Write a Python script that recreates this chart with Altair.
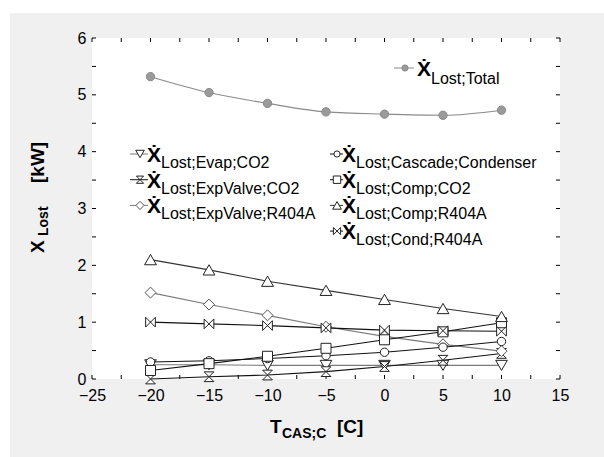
import altair as alt
import pandas as pd

# ---------------- data ----------------
t_cas = [-20, -15, -10, -5, 0, 5, 10]
x_total = [5.32, 5.04, 4.85, 4.70, 4.66, 4.64, 4.73]
x_evap_co2 = [0.25, 0.25, 0.24, 0.24, 0.24, 0.24, 0.24]
x_expvalve_co2 = [0.00, 0.04, 0.07, 0.13, 0.22, 0.33, 0.45]
x_expvalve_r404a = [1.52, 1.31, 1.12, 0.92, 0.75, 0.61, 0.49]
x_cascade = [0.30, 0.32, 0.36, 0.41, 0.47, 0.56, 0.66]
x_comp_co2 = [0.15, 0.27, 0.40, 0.54, 0.69, 0.83, 0.99]
x_comp_r404a = [2.10, 1.92, 1.72, 1.56, 1.40, 1.24, 1.10]
x_cond_r404a = [1.00, 0.97, 0.94, 0.90, 0.86, 0.85, 0.84]

x_ticks = [-25, -20, -15, -10, -5, 0, 5, 10, 15]
y_ticks = [0, 1, 2, 3, 4, 5, 6]
x_minor = [-25 + 2.5 * i for i in range(17)]
y_minor = [0.5 * i for i in range(13)]

FONT = "Liberation Sans, Arial, Helvetica, sans-serif"
HOURGLASS = "M-1,-1L1,-1L-1,1L1,1Z"
BOWTIE = "M-1,-1L1,1L1,-1L-1,1Z"

# name, label, values, shape, size, line colour, stroke, fill, legend column, legend row
series = [
    ("total", "Lost;Total", x_total, "circle", 70, "#8a8a8a", "#8a8a8a", "#9a9a9a", "top", 0),
    ("evap", "Lost;Evap;CO2", x_evap_co2, "triangle-down", 135, "#7a7a7a", "#222222", "white", "left", 0),
    ("expco2", "Lost;ExpValve;CO2", x_expvalve_co2, HOURGLASS, 95, "#111111", "#222222", "white", "left", 1),
    ("expr404", "Lost;ExpValve;R404A", x_expvalve_r404a, "diamond", 120, "#7a7a7a", "#555555", "white", "left", 2),
    ("cascade", "Lost;Cascade;Condenser", x_cascade, "circle", 70, "#111111", "#222222", "white", "right", 0),
    ("compco2", "Lost;Comp;CO2", x_comp_co2, "square", 100, "#111111", "#222222", "white", "right", 1),
    ("compr404", "Lost;Comp;R404A", x_comp_r404a, "triangle-up", 140, "#333333", "#222222", "white", "right", 2),
    ("cond", "Lost;Cond;R404A", x_cond_r404a, BOWTIE, 95, "#111111", "#222222", "white", "right", 3),
]

# ---------------- layout helpers (page pixels -> data units) ----------------
W, H = 468, 341
L, T = 92, 38


def dx(px):
    return -25 + (px - L) * 40 / W


def dy(py):
    return (T + H - py) * 6 / H


legend_cols = {
    # line start, line end, marker, X left, subscript left, first row y, X dy, sub dy
    "left": (130, 148, 140, 147, 161, 154, 8, 14),
    "right": (330, 343, 337, 342, 356, 154, 8, 14),
    "top": (394, 414, 405, 417, 431, 68, 8, 16),
}
ROW = 25.7

rows = []
leg = []
for name, label, vals, shape, size, lc, sc, fc, col, r in series:
    for xv, yv in zip(t_cas, vals):
        rows.append({"x": xv, "y": yv, "series": name})
    a, b, m, xl, sl, y0, ox, os_ = legend_cols[col]
    ly = y0 + r * ROW
    leg.append({
        "series": name, "label": label, "glyph": "\u1E8A",
        "lx0": dx(a), "lx1": dx(b), "lxm": dx(m), "lxX": dx(xl), "lxS": dx(sl),
        "ly": dy(ly), "lyX": dy(ly + ox), "lyS": dy(ly + os_),
    })
df = pd.DataFrame(rows)
leg_df = pd.DataFrame(leg)

xscale = alt.Scale(domain=[-25, 15], nice=False, zero=False)
yscale = alt.Scale(domain=[0, 6], nice=False, zero=False)
xaxis = alt.Axis(values=x_ticks, ticks=False, domain=False, grid=False, labelFontSize=16,
                 labelFont=FONT, labelColor="black", labelPadding=8, title=None,
                 labelFlush=False, zindex=2)
yaxis = alt.Axis(values=y_ticks, ticks=False, domain=False, grid=False, labelFontSize=16,
                 labelFont=FONT, labelColor="black", labelPadding=6, title=None,
                 labelFlush=False, zindex=2)


def X(f):
    return alt.X(f, type="quantitative", scale=xscale, axis=xaxis)


def Y(f):
    return alt.Y(f, type="quantitative", scale=yscale, axis=yaxis)


one = pd.DataFrame({"a": [0]})
layers = []

# backgrounds
layers.append(alt.Chart(one).mark_rect(color="#f0f0f0").encode(
    x=alt.value(10 - L), x2=alt.value(604 - L), y=alt.value(13 - T), y2=alt.value(457 - T)))
layers.append(alt.Chart(one).mark_rect(color="white").encode(
    x=alt.value(0), x2=alt.value(W), y=alt.value(0), y2=alt.value(H)))

# inward ticks on all four sides
xt = pd.DataFrame({"v": x_minor})
yt = pd.DataFrame({"v": y_minor})
TK = 4
layers.append(alt.Chart(xt).mark_rule(color="black", strokeWidth=1).encode(
    x=X("v"), y=alt.value(H), y2=alt.value(H - TK)))
layers.append(alt.Chart(xt).mark_rule(color="black", strokeWidth=1).encode(
    x=X("v"), y=alt.value(0), y2=alt.value(TK)))
layers.append(alt.Chart(yt).mark_rule(color="black", strokeWidth=1).encode(
    y=Y("v"), x=alt.value(0), x2=alt.value(TK)))
layers.append(alt.Chart(yt).mark_rule(color="black", strokeWidth=1).encode(
    y=Y("v"), x=alt.value(W), x2=alt.value(W - TK)))

base = alt.Chart(df)
# lines
for name, label, vals, shape, size, lc, sc, fc, col, r in series:
    layers.append(base.transform_filter(alt.datum.series == name).mark_line(
        color=lc, strokeWidth=1.1, interpolate="monotone" if name == "total" else "linear"
    ).encode(x=X("x"), y=Y("y")))
# points
for name, label, vals, shape, size, lc, sc, fc, col, r in series:
    layers.append(base.transform_filter(alt.datum.series == name).mark_point(
        shape=shape, size=size, filled=True, fill=fc, stroke=sc, strokeWidth=1, opacity=1
    ).encode(x=X("x"), y=Y("y")))

# legend
lbase = alt.Chart(leg_df)
for name, label, vals, shape, size, lc, sc, fc, col, r in series:
    f = lbase.transform_filter(alt.datum.series == name)
    layers.append(f.mark_rule(color=lc, strokeWidth=1).encode(x=X("lx0"), x2="lx1", y=Y("ly")))
    layers.append(f.mark_point(shape=shape, size=size * 0.55, filled=True, fill=fc, stroke=sc,
                               strokeWidth=1, opacity=1).encode(x=X("lxm"), y=Y("ly")))
layers.append(lbase.mark_text(align="left", baseline="alphabetic", font=FONT, fontSize=21,
                              fontWeight="bold", color="black").encode(
    x=X("lxX"), y=Y("lyX"), text="glyph:N"))
layers.append(lbase.mark_text(align="left", baseline="alphabetic", font=FONT, fontSize=16,
                              color="black").encode(
    x=X("lxS"), y=Y("lyS"), text="label:N"))


# axis titles with subscripts
def txt(s, px, py, size, angle=0):
    kw = dict(align="left", baseline="alphabetic", font=FONT, fontSize=size,
              fontWeight="bold", color="black", text=s)
    if angle:
        kw["angle"] = angle
    return alt.Chart(one).mark_text(**kw).encode(x=alt.value(px - L), y=alt.value(py - T))


layers += [
    txt("T", 270, 433, 19),
    txt("CAS;C", 282, 438, 14),
    txt("[C]", 337, 433, 19),
    txt("X", 44, 253, 19, 270),
    txt("Lost", 48, 236, 14, 270),
    txt("[kW]", 44, 183, 19, 270),
]

chart = alt.layer(*layers).properties(
    width=W, height=H,
    padding={"left": L, "top": T, "right": 604 - L - W, "bottom": 457 - T - H},
    autosize=alt.AutoSizeParams(type="none"),
    background="white",
).configure_view(stroke="black", strokeWidth=1)

chart.save("out.html", embed_options={"renderer": "svg", "actions": False})
